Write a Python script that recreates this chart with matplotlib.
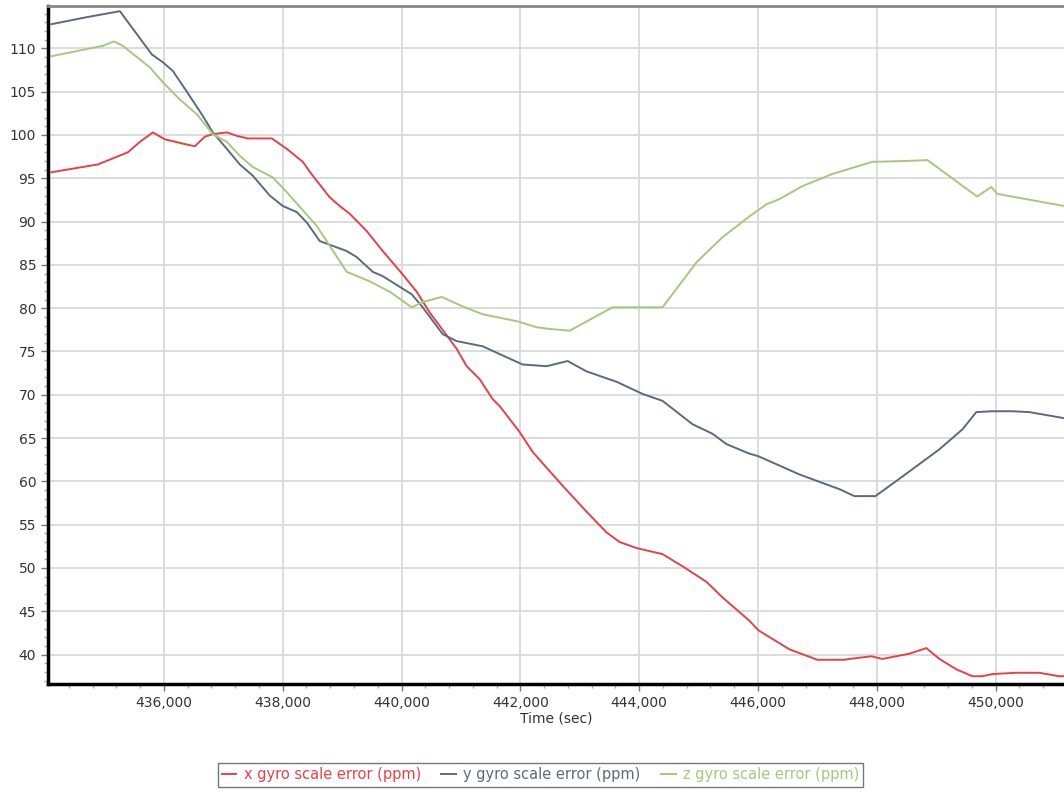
import numpy as np
import matplotlib.pyplot as plt
from matplotlib.ticker import FuncFormatter, MultipleLocator

# x gyro scale error (ppm)
x_time = [434111, 434890, 435394, 435596, 435815, 436017, 436353, 436521, 436690,
          436824, 437060, 437228, 437413, 437817, 438069, 438338, 438506, 438792,
          438960, 439129, 439415, 439684, 439970, 440256, 440475, 440811, 440929,
          441097, 441316, 441534, 441652, 441820, 441988, 442207, 442711, 443115,
          443452, 443670, 443956, 444393, 444729, 445133, 445403, 445857, 446008,
          446530, 447001, 447455, 447539, 447909, 448093, 448548, 448834, 449052,
          449338, 449607, 449775, 449943, 450346, 450733, 451069, 451150]
x_err = [95.7, 96.6, 98.0, 99.2, 100.3, 99.5, 98.95, 98.7, 99.8,
         100.1, 100.3, 99.9, 99.6, 99.6, 98.4, 96.9, 95.3, 92.8,
         91.8, 90.9, 88.9, 86.6, 84.3, 81.9, 79.5, 76.4, 75.3,
         73.3, 71.8, 69.5, 68.7, 67.2, 65.7, 63.4, 59.5, 56.5,
         54.1, 53.0, 52.3, 51.6, 50.2, 48.4, 46.6, 43.9, 42.8,
         40.6, 39.4, 39.4, 39.5, 39.8, 39.5, 40.1, 40.75, 39.5,
         38.3, 37.5, 37.5, 37.75, 37.9, 37.9, 37.5, 37.5]

# y gyro scale error (ppm)
y_time = [434111, 434700, 435260, 435798, 435983, 436151, 436387, 436656, 436824,
          437060, 437278, 437497, 437783, 438002, 438237, 438405, 438624, 439078,
          439246, 439516, 439684, 440172, 440357, 440693, 440929, 441366, 441652,
          442038, 442442, 442796, 443115, 443620, 444057, 444393, 444898, 445234,
          445470, 445857, 446008, 446698, 447371, 447623, 447976, 448379, 449052,
          449439, 449674, 449943, 450279, 450565, 451069, 451150]
y_err = [112.8, 113.6, 114.3, 109.3, 108.4, 107.4, 105.0, 102.2, 100.3,
         98.4, 96.6, 95.3, 93.0, 91.8, 91.1, 89.9, 87.75, 86.6,
         85.9, 84.2, 83.7, 81.6, 80.1, 77.0, 76.2, 75.6, 74.7,
         73.5, 73.3, 73.9, 72.7, 71.5, 70.1, 69.3, 66.6, 65.5,
         64.3, 63.2, 62.9, 60.8, 59.1, 58.3, 58.3, 60.3, 63.7,
         66.0, 68.0, 68.1, 68.1, 68.0, 67.4, 67.3]

# z gyro scale error (ppm)
z_time = [434111, 434974, 435159, 435310, 435546, 435765, 435983, 436269, 436555,
          436824, 437060, 437278, 437497, 437833, 438069, 438288, 438573, 438792,
          439078, 439465, 439802, 440172, 440357, 440677, 441030, 441366, 441938,
          442274, 442493, 442829, 443552, 444393, 444965, 445403, 445857, 446143,
          446361, 446749, 447035, 447253, 447539, 447925, 448497, 448851, 449170,
          449506, 449691, 449926, 450027, 451069, 451150]
z_err = [109.1, 110.3, 110.8, 110.3, 109.0, 107.8, 106.1, 104.1, 102.4,
         100.1, 99.2, 97.6, 96.3, 95.1, 93.4, 91.7, 89.5, 87.2,
         84.2, 83.1, 81.9, 80.1, 80.7, 81.3, 80.2, 79.3, 78.5,
         77.8, 77.6, 77.4, 80.1, 80.1, 85.3, 88.2, 90.6, 92.0,
         92.6, 94.1, 94.9, 95.5, 96.1, 96.9, 97.0, 97.1, 95.5,
         93.8, 92.9, 94.0, 93.2, 91.9, 91.8]

labels = ['x gyro scale error (ppm)', 'y gyro scale error (ppm)', 'z gyro scale error (ppm)']
colors = ['#e4424a', '#5b6b7b', '#a8c77c']

fig = plt.figure(figsize=(10.64, 7.94), dpi=100)
ax = fig.add_axes([0.0451, 0.1385, 0.9549, 0.854])

ax.plot(x_time, x_err, color=colors[0], lw=1.4, label=labels[0])
ax.plot(y_time, y_err, color=colors[1], lw=1.4, label=labels[1])
ax.plot(z_time, z_err, color=colors[2], lw=1.4, label=labels[2])

ax.set_xlim(434050, 451150)
ax.set_ylim(36.6, 114.9)

ax.xaxis.set_major_locator(MultipleLocator(2000))
ax.xaxis.set_minor_locator(MultipleLocator(400))
ax.yaxis.set_major_locator(MultipleLocator(5))
ax.yaxis.set_minor_locator(MultipleLocator(1))
ax.xaxis.set_major_formatter(FuncFormatter(lambda v, p: f'{v:,.0f}'))

ax.grid(True, which='major', color='#d9d9d9', lw=1.3)
ax.set_axisbelow(True)

ax.spines['right'].set_visible(False)
ax.spines['top'].set_color('#888888')
ax.spines['top'].set_linewidth(2)
ax.spines['left'].set_linewidth(2.5)
ax.spines['bottom'].set_linewidth(2.5)

ax.tick_params(which='major', length=5, width=1, color='#777777', labelsize=10,
               labelcolor='#333333')
ax.tick_params(which='minor', length=3, width=1, color='#aaaaaa')

ax.set_xlabel('Time (sec)', fontsize=10, color='#333333', labelpad=1)

leg = fig.legend(loc='center', bbox_to_anchor=(0.508, 0.024), ncol=3, fontsize=10.5,
                 frameon=True, fancybox=False, handlelength=1.0, handletextpad=0.5,
                 columnspacing=1.4, borderpad=0.3)
leg.get_frame().set_edgecolor('#555555')
leg.get_frame().set_linewidth(1)
for txt, c in zip(leg.get_texts(), colors):
    txt.set_color(c)

fig.savefig('out.png', dpi=100)
